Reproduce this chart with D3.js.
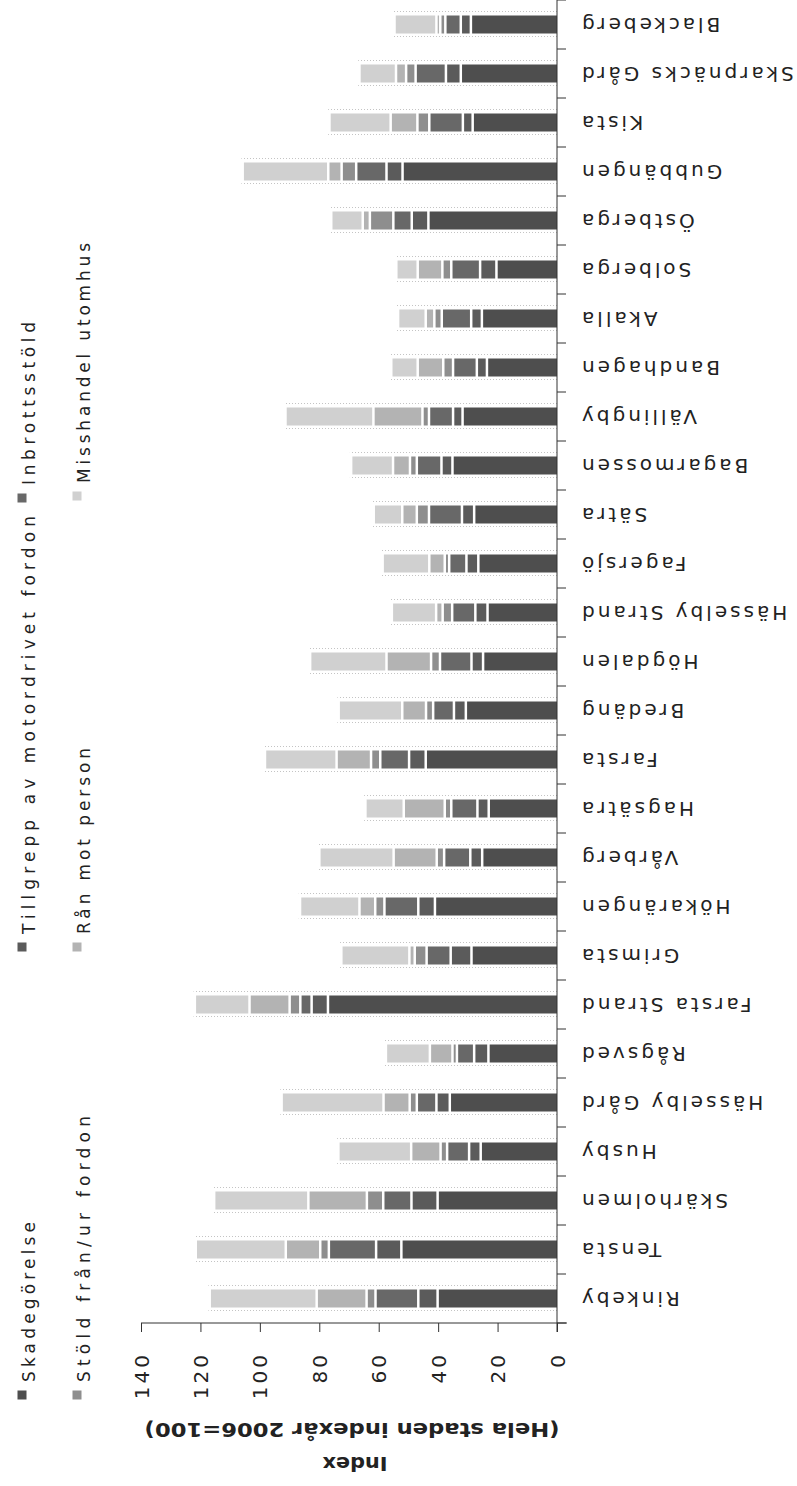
<!DOCTYPE html>
<html>
<head>
<meta charset="utf-8">
<script src="https://cdn.jsdelivr.net/npm/d3@7"></script>
<style>
  body { margin: 0; background: #fff; }
  text { font-family: "DejaVu Sans", Verdana, sans-serif; fill: #222; }
</style>
</head>
<body>
<script>
// Stadsdelar, nerifrån och upp
const categories = ["Rinkeby", "Tensta", "Skärholmen", "Husby", "Hässelby Gård", "Rågsved",
  "Farsta Strand", "Grimsta", "Hökarängen", "Vårberg", "Hagsätra", "Farsta", "Bredäng",
  "Högdalen", "Hässelby Strand", "Fagersjö", "Sätra", "Bagarmossen", "Vällingby",
  "Bandhagen", "Akalla", "Solberga", "Östberga", "Gubbängen", "Kista", "Skarpnäcks Gård",
  "Blackeberg"];

const seriesNames = ["Skadegörelse", "Tillgrepp av motordrivet fordon", "Inbrottsstöld",
  "Stöld från/ur fordon", "Rån mot person", "Misshandel utomhus"];

const skadegorelse = [40.6, 52.8, 40.6, 26.1, 36.5, 23.5, 77.5, 29.2, 41.5, 25.6, 23.4, 44.6, 31.1,
  25.3, 23.8, 26.9, 28.3, 35.6, 32.2, 24.0, 25.7, 20.8, 43.7, 52.4, 28.8, 32.8, 29.4];
const tillgrepp = [6.5, 8.5, 8.8, 3.9, 4.5, 4.8, 5.5, 7.0, 5.6, 4.0, 3.8, 5.6, 4.0,
  3.9, 4.1, 4.0, 4.1, 3.7, 3.2, 3.4, 3.6, 5.5, 5.6, 5.4, 3.3, 5.0, 3.4];
const inbrott = [14.4, 15.9, 9.5, 7.4, 6.6, 5.8, 3.8, 8.1, 11.4, 8.8, 8.8, 9.7, 7.0,
  10.6, 7.8, 5.8, 11.1, 8.3, 8.1, 8.0, 9.9, 9.7, 6.2, 10.2, 11.3, 10.2, 5.2];
const stoldFordon = [3.0, 2.9, 5.5, 2.2, 2.4, 1.5, 3.6, 4.0, 3.1, 2.5, 2.2, 3.1, 2.4,
  3.0, 3.2, 1.5, 4.1, 2.3, 2.2, 3.3, 2.5, 3.0, 7.9, 4.9, 4.0, 3.2, 1.7];
const ran = [16.8, 11.6, 19.7, 9.9, 8.8, 7.6, 13.5, 1.8, 5.3, 14.5, 13.8, 11.6, 8.0,
  15.0, 2.2, 5.2, 4.9, 5.7, 16.5, 8.6, 2.9, 8.3, 2.4, 4.5, 9.0, 3.4, 1.3];
const misshandel = [36.0, 30.3, 31.7, 24.5, 34.3, 14.8, 18.4, 22.9, 20.0, 25.0, 12.9, 24.1, 21.4,
  25.7, 14.9, 15.7, 9.6, 14.1, 29.6, 8.9, 9.3, 7.2, 10.6, 28.8, 20.6, 12.3, 14.1];

const tickValues = [0, 20, 40, 60, 80, 100, 120, 140];
const colors = ["#4e4e4e", "#5b5b5b", "#686868", "#8e8e8e", "#b3b3b3", "#d0d0d0"];

const W = 797, H = 1486;
const svg = d3.select("body").append("svg").attr("width", W).attr("height", H);
svg.append("rect").attr("width", W).attr("height", H).attr("fill", "#fff");

const allSeries = [skadegorelse, tillgrepp, inbrott, stoldFordon, ran, misshandel];
const rows = categories.map((c, i) => {
  const r = { cat: c };
  seriesNames.forEach((s, k) => r[s] = allSeries[k][i]);
  return r;
});
const stacked = d3.stack().keys(seriesNames)(rows);

const axisX = 557, axisY = 1323;
const x = d3.scaleLinear().domain([0, 140]).range([axisX, 141]);
const y = d3.scaleBand().domain(categories).range([axisY, 0]);
const barH = 18, gap = 2.5;

// svaga prickade linjer runt staplarna (som i originalet)
const total = rows.map(r => d3.sum(seriesNames, s => r[s]));
[-13, 12].forEach(off => {
  svg.append("g").selectAll("line").data(categories).join("line")
    .attr("x1", axisX).attr("x2", (d, i) => x(total[i]))
    .attr("y1", d => y(d) + y.bandwidth() / 2 + off)
    .attr("y2", d => y(d) + y.bandwidth() / 2 + off)
    .attr("stroke", "#c4c4c4").attr("stroke-width", 1).attr("stroke-dasharray", "1,2");
});

svg.append("g").selectAll("g").data(stacked).join("g")
  .attr("fill", (d, i) => colors[i])
  .selectAll("rect").data(d => d).join("rect")
  .attr("x", d => x(d[1]) + gap)
  .attr("width", d => Math.max(0, x(d[0]) - x(d[1]) - gap))
  .attr("y", d => y(d.data.cat) + y.bandwidth() / 2 - barH / 2)
  .attr("height", barH);

// värdeaxel
const xAxis = svg.append("g").attr("transform", `translate(0,${axisY})`)
  .call(d3.axisBottom(x).tickValues(tickValues).tickSize(9).tickSizeOuter(0));
xAxis.select(".domain").attr("stroke", "#333").attr("d", `M141,0H${axisX + 10}`);
xAxis.selectAll(".tick line").attr("stroke", "#333");
xAxis.selectAll(".tick text")
  .attr("transform", "rotate(-90)")
  .attr("x", -29).attr("y", 0).attr("dy", "0.35em")
  .style("text-anchor", "end")
  .style("font-size", "20px").style("letter-spacing", "3px");

// kategoriaxel
svg.append("line").attr("x1", axisX).attr("x2", axisX).attr("y1", 0).attr("y2", axisY + 9)
  .attr("stroke", "#333");
const edges = categories.map(c => y(c)).concat([axisY]);
svg.append("g").selectAll("line").data(edges).join("line")
  .attr("x1", axisX).attr("x2", axisX + 9).attr("y1", d => d).attr("y2", d => d)
  .attr("stroke", "#333");

svg.append("g").selectAll("text").data(categories).join("text")
  .attr("transform", d => `translate(579,${y(d) + y.bandwidth() / 2}) rotate(180)`)
  .attr("text-anchor", "end").attr("dominant-baseline", "central")
  .style("font-size", "20px").style("letter-spacing", "3px")
  .text(d => d);

// axeltitel
svg.append("text")
  .attr("transform", "translate(352,1430) rotate(180)")
  .attr("text-anchor", "middle").attr("dominant-baseline", "central")
  .attr("textLength", 415).attr("lengthAdjust", "spacingAndGlyphs")
  .style("font-size", "20px").style("font-weight", "bold")
  .text("(Hela staden indexår 2006=100)");
svg.append("text")
  .attr("transform", "translate(355,1464) rotate(180)")
  .attr("text-anchor", "middle").attr("dominant-baseline", "central")
  .attr("textLength", 65).attr("lengthAdjust", "spacingAndGlyphs")
  .style("font-size", "20px").style("font-weight", "bold")
  .text("Index");

// legend
const legendPos = [
  { mx: 22, ty: 1395, len: 160 }, { mx: 22, ty: 947, len: 418 }, { mx: 22, ty: 498, len: 163 },
  { mx: 77, ty: 1395, len: 266 }, { mx: 77, ty: 947, len: 186 }, { mx: 77, ty: 496, len: 240 }
];
const leg = svg.append("g").selectAll("g").data(seriesNames).join("g");
leg.append("rect")
  .attr("x", (d, i) => legendPos[i].mx - 4.5).attr("y", (d, i) => legendPos[i].ty - 4.5)
  .attr("width", 9).attr("height", 9).attr("fill", (d, i) => colors[i]);
leg.append("text")
  .attr("transform", (d, i) => `translate(${legendPos[i].mx + 7},${legendPos[i].ty - 13}) rotate(-90)`)
  .attr("dominant-baseline", "central")
  .attr("textLength", (d, i) => legendPos[i].len).attr("lengthAdjust", "spacing")
  .style("font-size", "17px")
  .text(d => d);
</script>
</body>
</html>
